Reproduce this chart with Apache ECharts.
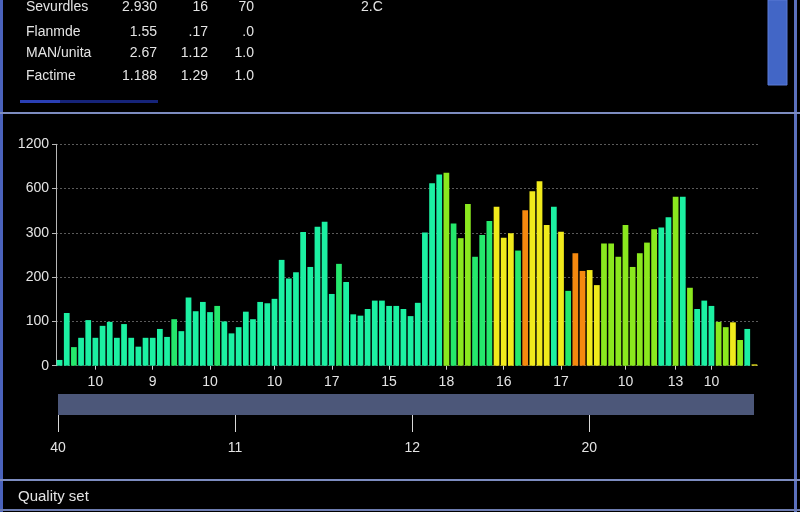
<!DOCTYPE html>
<html>
<head>
<meta charset="utf-8">
<script src="https://cdn.jsdelivr.net/npm/echarts@6/dist/echarts.min.js"></script>
<style>
html,body{margin:0;padding:0;background:#000;}
#chart{width:800px;height:512px;}
</style>
</head>
<body>
<div id="chart"></div>
<script>
// ---- data ----
const rowNames = ['Sevurdles', 'Flanmde', 'MAN/unita', 'Factime'];
const col1 = ['2.930', '1.55', '2.67', '1.188'];
const col2 = ['16', '.17', '1.12', '1.29'];
const col3 = ['70', '.0', '1.0', '1.0'];
const extraHeader = '2.C';

const yTickLabels = [0, 100, 200, 300, 600, 1200];

const values = [
  13, 119, 42, 63, 103, 63, 90, 99, 63, 94,
  63, 43, 63, 63, 83, 65, 105, 78, 154, 123,
  144, 121, 135, 100, 73, 87, 122, 105, 144, 141,
  151, 239, 197, 211, 305, 223, 342, 375, 162, 230,
  189, 116, 113, 128, 147, 147, 135, 135, 128, 112,
  142, 303, 672, 792, 814, 364, 288, 495, 246, 295,
  381, 477, 289, 299, 260, 454, 582, 700, 353, 477,
  307, 169, 254, 214, 216, 182, 276, 276, 246, 353,
  223, 254, 278, 324, 337, 405, 544, 544, 176, 128,
  147, 135, 99, 87, 98, 58, 83, 3
];
// quality class of each bar: 0 aqua, 1 green, 2 lime, 3 yellow, 4 orange
const quality = [
  0, 0, 1, 0, 0, 0, 0, 0, 0, 0,
  0, 0, 0, 0, 0, 0, 1, 0, 0, 0,
  0, 0, 1, 0, 0, 0, 0, 0, 0, 0,
  0, 0, 0, 0, 0, 0, 0, 0, 0, 1,
  0, 0, 0, 0, 0, 0, 0, 0, 0, 0,
  0, 0, 0, 0, 2, 1, 2, 2, 1, 1,
  1, 3, 3, 3, 1, 4, 3, 3, 3, 0,
  3, 1, 4, 4, 3, 3, 2, 2, 2, 2,
  2, 2, 2, 2, 0, 0, 2, 0, 2, 0,
  0, 0, 2, 2, 3, 2, 0, 3
];
const xTickLabels = ['10', '9', '10', '10', '17', '15', '18', '16', '17', '10', '13', '10'];
const xTickAt = [5, 13, 21, 30, 38, 46, 54, 62, 70, 79, 86, 91];
const bottomTickLabels = ['40', '11', '12', '20'];
const footerText = 'Quality set';

const qualityColors = ['#1cf0a2', '#25e86c', '#8ae81e', '#f0ea1c', '#f5890f'];

// ---- helpers ----
function toLevel(v) {
  for (let k = 0; k < yTickLabels.length - 1; k++) {
    const lo = yTickLabels[k], hi = yTickLabels[k + 1];
    if (v <= hi) return k + (v - lo) / (hi - lo);
  }
  return yTickLabels.length - 1;
}
const categories = values.map((_, i) => {
  const j = xTickAt.indexOf(i);
  return j >= 0 ? xTickLabels[j] : '';
});
const seriesData = values.map((v, i) => [i, toLevel(v), quality[i], v]);

const FONT = '"Liberation Sans", Arial, sans-serif';
const TXT = '#e4e4e4';

const graphics = [];
// panel lines
graphics.push({type:'rect', shape:{x:0,y:0,width:3,height:512}, style:{fill:'#4a62bb'}, silent:true});
graphics.push({type:'rect', shape:{x:794,y:0,width:3,height:512}, style:{fill:'#5b70bd'}, silent:true});
graphics.push({type:'rect', shape:{x:0,y:112,width:800,height:2}, style:{fill:'#7d8cc0'}, silent:true});
graphics.push({type:'rect', shape:{x:0,y:479,width:800,height:2}, style:{fill:'#7d8cc0'}, silent:true});
graphics.push({type:'rect', shape:{x:0,y:509,width:800,height:2}, style:{fill:'#6d7cb0'}, silent:true});
// right scroll block
graphics.push({type:'rect', shape:{x:768,y:0,width:19,height:85}, style:{fill:'#4266c6', stroke:'#5a7ad6', lineWidth:1}, silent:true});
// underline
graphics.push({type:'rect', shape:{x:20,y:100,width:138,height:3}, style:{fill:'#16247a'}, silent:true});
graphics.push({type:'rect', shape:{x:20,y:100,width:40,height:3}, style:{fill:'#2a3fb5'}, silent:true});
// table text
const rowY = [7, 32, 53, 76];
rowNames.forEach((n, i) => {
  const y = rowY[i];
  graphics.push({type:'text', x:26, y:y, style:{text:n, fill:TXT, font:'14px ' + FONT, textVerticalAlign:'middle'}, silent:true});
  graphics.push({type:'text', x:157, y:y, style:{text:col1[i], fill:TXT, font:'14px ' + FONT, textAlign:'right', textVerticalAlign:'middle'}, silent:true});
  graphics.push({type:'text', x:208, y:y, style:{text:col2[i], fill:TXT, font:'14px ' + FONT, textAlign:'right', textVerticalAlign:'middle'}, silent:true});
  graphics.push({type:'text', x:254, y:y, style:{text:col3[i], fill:TXT, font:'14px ' + FONT, textAlign:'right', textVerticalAlign:'middle'}, silent:true});
});
graphics.push({type:'text', x:361, y:7, style:{text:extraHeader, fill:TXT, font:'14px ' + FONT, textVerticalAlign:'middle'}, silent:true});
graphics.push({type:'text', x:18, y:497, style:{text:footerText, fill:TXT, font:'15px ' + FONT, textVerticalAlign:'middle'}, silent:true});

const chart = echarts.init(document.getElementById('chart'), null, {renderer:'canvas'});
chart.setOption({
  backgroundColor: '#000',
  animation: false,
  textStyle: {fontFamily: FONT},
  graphic: graphics,
  grid: [
    {left: 56, right: 42, top: 144.3, bottom: 146.3},
    {left: 58, right: 46, top: 394, height: 21, show: true, backgroundColor: '#4c5779', borderWidth: 0}
  ],
  visualMap: {
    type: 'piecewise', show: false, dimension: 2, seriesIndex: 0,
    pieces: qualityColors.map((c, i) => ({value: i, color: c}))
  },
  xAxis: [
    {
      type: 'category', gridIndex: 0, data: categories, boundaryGap: true,
      axisLine: {show: false},
      axisTick: {show: true, alignWithLabel: true, length: 4, lineStyle: {color: '#cfcfcf'},
        interval: (i) => xTickAt.indexOf(i) >= 0},
      axisLabel: {color: TXT, fontSize: 14, margin: 9, interval: (i) => xTickAt.indexOf(i) >= 0}
    },
    {
      type: 'value', gridIndex: 1, min: 0, max: 3.93, interval: 1, position: 'bottom',
      axisLine: {show: false},
      splitLine: {show: false},
      axisTick: {show: true, length: 17, inside: false, lineStyle: {color: '#d8d8d8'}},
      axisLabel: {color: TXT, fontSize: 14, margin: 26, showMaxLabel: false,
        formatter: (v) => bottomTickLabels[Math.round(v)] || ''}
    }
  ],
  yAxis: [
    {
      type: 'value', gridIndex: 0, min: 0, max: yTickLabels.length - 1, interval: 1,
      axisLine: {show: true, lineStyle: {color: '#b8b8b8'}},
      axisTick: {show: true, length: 4, lineStyle: {color: '#b8b8b8'}},
      axisLabel: {color: TXT, fontSize: 14, margin: 7, formatter: (v) => String(yTickLabels[Math.round(v)])},
      splitLine: {show: true, lineStyle: {color: '#5a5a5a', type: [2, 2], width: 1}}
    },
    {type: 'value', gridIndex: 1, show: false, min: 0, max: 1}
  ],
  series: [{
    type: 'bar', xAxisIndex: 0, yAxisIndex: 0,
    data: seriesData, encode: {x: 0, y: 1},
    barCategoryGap: '20%'
  }]
});
</script>
</body>
</html>
